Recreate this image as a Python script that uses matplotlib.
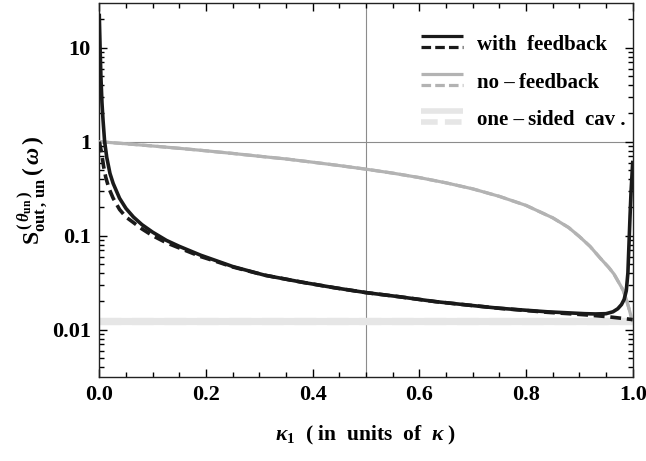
import matplotlib
matplotlib.use("Agg")
import matplotlib.pyplot as plt
from matplotlib.lines import Line2D
from matplotlib.legend_handler import HandlerBase
from matplotlib.ticker import FixedLocator, NullFormatter, MultipleLocator

# ---------------- data ----------------
k_fb = [0.0, 0.0015, 0.003, 0.005, 0.007, 0.010, 0.014, 0.020, 0.026, 0.038, 0.050,
        0.064, 0.080, 0.100, 0.126, 0.150, 0.190, 0.220, 0.250, 0.310, 0.380, 0.440,
        0.500, 0.560, 0.630, 0.690, 0.750, 0.800, 0.840, 0.880, 0.910, 0.930, 0.950,
        0.963, 0.972, 0.979, 0.984, 0.988, 0.991, 0.993, 0.995, 0.997, 1.0]
s_fb = [22.0, 10.0, 5.0, 2.6, 1.7, 1.0, 0.68, 0.46, 0.36, 0.25, 0.195,
        0.158, 0.131, 0.109, 0.089, 0.077, 0.062, 0.054, 0.047, 0.038, 0.032, 0.028,
        0.0248, 0.0225, 0.0199, 0.0183, 0.0169, 0.0161, 0.0155, 0.0151, 0.0148, 0.0147, 0.0148,
        0.0155, 0.0167, 0.0185, 0.021, 0.026, 0.040, 0.080, 0.16, 0.30, 0.60]

k_fb_approx = [0.0, 0.004, 0.008, 0.012, 0.018, 0.026, 0.038, 0.050, 0.064, 0.080, 0.100,
               0.126, 0.150, 0.190, 0.220, 0.250, 0.310, 0.380, 0.440, 0.500, 0.560, 0.630,
               0.690, 0.750, 0.800, 0.840, 0.880, 0.910, 0.930, 0.950, 0.970, 0.990, 1.0]
s_fb_approx = [1.0, 0.78, 0.55, 0.42, 0.32, 0.25, 0.19, 0.158, 0.138, 0.118, 0.100,
               0.084, 0.074, 0.060, 0.053, 0.0465, 0.038, 0.032, 0.028, 0.0248, 0.0225, 0.0199,
               0.0183, 0.0169, 0.0160, 0.0153, 0.0148, 0.0144, 0.0141, 0.0138, 0.0134, 0.0130, 0.0128]

k_nofb = [0.0, 0.05, 0.10, 0.15, 0.20, 0.25, 0.30, 0.35, 0.40, 0.45, 0.50, 0.55, 0.60,
          0.65, 0.70, 0.75, 0.80, 0.85, 0.88, 0.90, 0.92, 0.94, 0.955, 0.965, 0.975,
          0.982, 0.988, 0.992, 0.996, 1.0]
s_nofb = [1.0, 0.95, 0.90, 0.85, 0.80, 0.75, 0.70, 0.655, 0.605, 0.557, 0.51, 0.463, 0.415,
          0.365, 0.315, 0.262, 0.21, 0.155, 0.122, 0.098, 0.077, 0.057, 0.046, 0.039, 0.031,
          0.0264, 0.021, 0.0176, 0.0145, 0.0125]

k_one = [0.0, 1.0]
s_one = [0.0125, 0.0125]

legend_labels = ["with  feedback", "no \u2013\u2009feedback", "one \u2013\u2009sided  cav ."]
xlabel_text = r"$\kappa_1$  ( in  units  of  $\kappa$ )"
ylabel_text = r"$\mathbf{S}^{\,(\,\theta_{\mathbf{un}}\,)}_{\mathbf{out}\,,\,\mathbf{un}}\,(\,\omega\,)$"

x_ticks = [0.0, 0.2, 0.4, 0.6, 0.8, 1.0]
x_ticklabels = ["0.0", "0.2", "0.4", "0.6", "0.8", "1.0"]
y_ticks = [0.01, 0.1, 1, 10]
y_ticklabels = ["0.01", "0.1", "1", "10"]

# ---------------- style ----------------
plt.rcParams["font.family"] = ["Liberation Serif", "DejaVu Serif"]
plt.rcParams["font.weight"] = "bold"
plt.rcParams["mathtext.fontset"] = "custom"
plt.rcParams["mathtext.rm"] = "Liberation Serif:bold"
plt.rcParams["mathtext.bf"] = "Liberation Serif:bold"
plt.rcParams["mathtext.it"] = "Liberation Serif:italic:bold"

BLACK = "#1a1a1a"
GRAY = "#b3b3b3"
LIGHT = "#e6e6e6"

fig = plt.figure(figsize=(6.46, 4.61), dpi=100)
ax = fig.add_axes([0.1537, 0.1829, 0.8257, 0.8099])

ax.plot(k_one, s_one, color=LIGHT, lw=5.2, solid_capstyle="butt", zorder=2)
ax.plot(k_one, s_one, color=LIGHT, lw=5.2, dashes=(3, 1.5), zorder=2)
ax.axhline(1.0, color="#8c8c8c", lw=0.8, zorder=1)
ax.axvline(0.5, color="#8c8c8c", lw=0.8, zorder=1)
ax.plot(k_nofb, s_nofb, color=GRAY, lw=2.3, zorder=3)
ax.plot(k_nofb, s_nofb, color=GRAY, lw=2.3, dashes=(3, 1.5), zorder=3)
ax.plot(k_fb_approx, s_fb_approx, color=BLACK, lw=2.6, dashes=(3, 1.6), zorder=4)
ax.plot(k_fb, s_fb, color=BLACK, lw=2.6, zorder=5)

ax.set_yscale("log")
ax.set_xlim(0, 1)
ax.set_ylim(10 ** -2.5, 10 ** 1.472)

ax.xaxis.set_major_locator(FixedLocator(x_ticks))
ax.set_xticklabels(x_ticklabels)
ax.xaxis.set_minor_locator(MultipleLocator(0.05))
ax.yaxis.set_major_locator(FixedLocator(y_ticks))
ax.set_yticklabels(y_ticklabels)
ax.yaxis.set_minor_formatter(NullFormatter())

ax.tick_params(which="both", direction="in", top=True, right=True, width=1.0)
ax.tick_params(which="major", length=6, labelsize=16, pad=6)
ax.tick_params(which="minor", length=3.5)
for t in ax.get_xticklabels() + ax.get_yticklabels():
    t.set_fontweight("bold")
for s in ax.spines.values():
    s.set_linewidth(1.0)
    s.set_color("#222222")

ax.set_xlabel(xlabel_text, fontsize=15.5, fontweight="bold", labelpad=14)
ax.set_ylabel(ylabel_text, fontsize=17, fontweight="bold", labelpad=2)


class StackHandler(HandlerBase):
    def create_artists(self, legend, orig_handle, xdescent, ydescent,
                       width, height, fontsize, trans):
        color, lw = orig_handle
        x0, x1 = -xdescent, -xdescent + width
        l1 = Line2D([x0, x1], [height * 0.95, height * 0.95], color=color, lw=lw,
                    solid_capstyle="butt")
        l2 = Line2D([x0, x1], [height * 0.2, height * 0.2], color=color, lw=lw,
                    dashes=(3, 1.3), dash_capstyle="butt")
        for l in (l1, l2):
            l.set_transform(trans)
        return [l1, l2]


handles = [(BLACK, 2.3), (GRAY, 2.3), (LIGHT, 4.0)]
ax.legend(handles, legend_labels, handler_map={tuple: StackHandler()},
          loc="upper left", bbox_to_anchor=(0.572, 0.96), frameon=False,
          fontsize=15, handlelength=2.0, handleheight=0.7, handletextpad=0.7,
          labelspacing=0.85, borderpad=0.3)

fig.savefig("out.png", dpi=100)
